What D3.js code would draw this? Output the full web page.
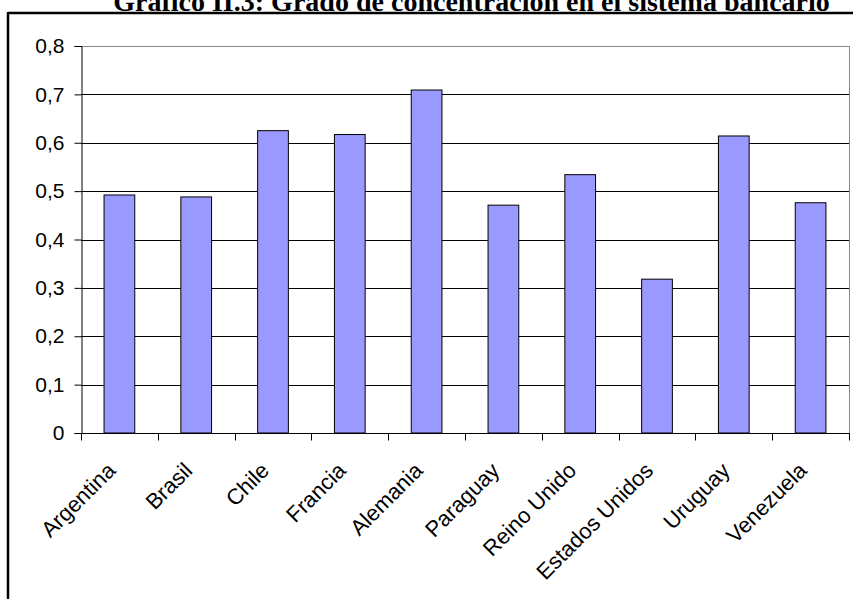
<!DOCTYPE html>
<html>
<head>
<meta charset="utf-8">
<script src="https://cdn.jsdelivr.net/npm/d3@7"></script>
<style>
html,body{margin:0;padding:0;background:#fff;}
svg{display:block;}
</style>
</head>
<body>
<script>
const title = "Gráfico II.3: Grado de concentración en el sistema bancario";
const categories = ["Argentina","Brasil","Chile","Francia","Alemania","Paraguay","Reino Unido","Estados Unidos","Uruguay","Venezuela"];
const values = [0.492,0.488,0.625,0.617,0.709,0.471,0.534,0.318,0.614,0.476];
const yTicks = [0,0.1,0.2,0.3,0.4,0.5,0.6,0.7,0.8];
const yTickLabels = ["0","0,1","0,2","0,3","0,4","0,5","0,6","0,7","0,8"];

const W = 853, H = 599;
const svg = d3.select("body").append("svg").attr("width", W).attr("height", H);

const pLeft = 81, pRight = 849, pTop = 46, pBottom = 433;

// title (partially cut at top)
const t = svg.append("text")
  .attr("x", 471.5).attr("y", 11)
  .attr("text-anchor", "middle")
  .attr("font-family", "Liberation Serif, Times New Roman, serif")
  .attr("font-weight", "bold")
  .attr("font-size", 28)
  .text(title);
const tw = t.node().getComputedTextLength();
t.attr("font-size", 28 * 717 / tw);

// outer frame (left + top visible)
svg.append("line").attr("x1", 8).attr("x2", W).attr("y1", 13).attr("y2", 13)
  .attr("stroke", "#000").attr("stroke-width", 2.5);
svg.append("line").attr("x1", 8).attr("x2", 8).attr("y1", 12).attr("y2", H)
  .attr("stroke", "#000").attr("stroke-width", 2.5);

const x = d3.scaleBand().domain(categories).range([pLeft, pRight]).padding(0);
const y = d3.scaleLinear().domain([0, 0.8]).range([pBottom, pTop]);

// gridlines
svg.append("g").selectAll("line").data(yTicks.filter(d => d > 0 && d < 0.8)).join("line")
  .attr("x1", pLeft).attr("x2", pRight)
  .attr("y1", d => Math.round(y(d)) + 0.5).attr("y2", d => Math.round(y(d)) + 0.5)
  .attr("stroke", "#000").attr("stroke-width", 1);

// plot border top/right
svg.append("path")
  .attr("d", `M${pLeft},${Math.round(y(0.8))+0.5}H${pRight+0.5}V${pBottom}`)
  .attr("fill", "none").attr("stroke", "#888").attr("stroke-width", 1);

// bars
const bw = x.bandwidth() * 0.4;
svg.append("g").selectAll("rect").data(values).join("rect")
  .attr("x", (d, i) => x(categories[i]) + x.bandwidth() / 2 - bw / 2)
  .attr("y", d => y(d))
  .attr("width", bw)
  .attr("height", d => y(0) - y(d))
  .attr("fill", "#9999ff")
  .attr("stroke", "#000").attr("stroke-width", 1);

// y axis
const yAxis = d3.axisLeft(y).tickValues(yTicks)
  .tickFormat((d, i) => yTickLabels[i]).tickSize(7).tickPadding(10);
const gy = svg.append("g").attr("transform", `translate(${pLeft + 0.5},0)`).call(yAxis);
gy.select(".domain").attr("stroke", "#000");
gy.selectAll(".tick line").attr("stroke", "#000");
gy.selectAll(".tick text").attr("font-family", "Liberation Sans, Arial, sans-serif")
  .attr("font-size", 21).attr("fill", "#000");

// x axis
const gx = svg.append("g").attr("transform", `translate(0,${pBottom + 0.5})`);
gx.append("line").attr("x1", pLeft).attr("x2", pRight + 1).attr("y1", 0).attr("y2", 0)
  .attr("stroke", "#000");
const boundaries = categories.map(c => x(c)).concat([pRight]);
gx.selectAll("line.tk").data(boundaries).join("line").attr("class", "tk")
  .attr("x1", d => Math.round(d) + 0.5).attr("x2", d => Math.round(d) + 0.5)
  .attr("y1", 0).attr("y2", 7).attr("stroke", "#000");
gx.selectAll("text").data(categories).join("text")
  .attr("transform", d => `translate(${x(d) + x.bandwidth() / 2 - 8},${33}) rotate(-45)`)
  .attr("text-anchor", "end")
  .attr("font-family", "Liberation Sans, Arial, sans-serif")
  .attr("font-size", 22).attr("fill", "#000")
  .attr("dy", "0.35em")
  .text(d => d);
</script>
</body>
</html>
